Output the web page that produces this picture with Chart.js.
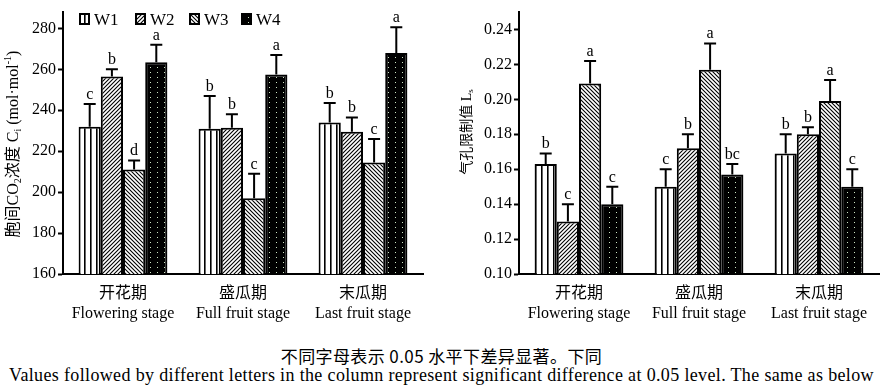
<!DOCTYPE html>
<html lang="zh">
<head>
<meta charset="UTF-8">
<title>Ci and Ls</title>
<script src="https://cdn.jsdelivr.net/npm/chart.js"></script>
<style>
    body { margin: 0; background: #fff; width: 883px; height: 390px; position: relative; overflow: hidden; }
    #left { position: absolute; left: 0; top: 0; }
    #right { position: absolute; left: 445px; top: 0; }
    .cap { position: absolute; left: 0; width: 883px; text-align: center; color: #000; white-space: nowrap; }
    #capZh { top: 343px; font: 17px 'Noto Sans CJK SC', 'Noto Sans', sans-serif; letter-spacing: 0.4px; }
    #capEn { top: 365px; font: 18px 'Liberation Serif', serif; letter-spacing: 0.35px; }
</style>
</head>
<body>
<canvas id="left" width="445" height="340"></canvas>
<canvas id="right" width="438" height="340"></canvas>
<div class="cap" id="capZh">不同字母表示 0.05 水平下差异显著。下同</div>
<div class="cap" id="capEn">Values followed by different letters in the column represent significant difference at 0.05 level. The same as below</div>
<script>
// data
const stages = [['开花期', 'Flowering stage'], ['盛瓜期', 'Full fruit stage'], ['末瓜期', 'Last fruit stage']];
const treatments = ['W1', 'W2', 'W3', 'W4'];

const ciTicks = [160, 180, 200, 220, 240, 260, 280];
const ciMean = [
    [232, 231, 234],
    [256.5, 231.5, 229.5],
    [211, 197, 214.5],
    [263.5, 257.5, 268]
];
const ciTop = [
    [243, 247, 243.5],
    [260, 238, 236.5],
    [215.5, 209, 226],
    [272, 267, 280.5]
];
const ciLetters = [['c', 'b', 'b'], ['b', 'b', 'b'], ['d', 'c', 'c'], ['a', 'a', 'a']];

const lsTicks = [0.10, 0.12, 0.14, 0.16, 0.18, 0.20, 0.22, 0.24];
const lsMean = [
    [0.163, 0.150, 0.169],
    [0.130, 0.172, 0.180],
    [0.209, 0.217, 0.199],
    [0.140, 0.157, 0.150]
];
const lsTop = [
    [0.169, 0.160, 0.180],
    [0.140, 0.180, 0.184],
    [0.222, 0.232, 0.211],
    [0.150, 0.163, 0.160]
];
const lsLetters = [['b', 'c', 'b'], ['c', 'b', 'b'], ['a', 'a', 'a'], ['c', 'bc', 'c']];

const SERIF = "'Liberation Serif', 'Noto Sans CJK SC', serif";

// fill patterns
function makePattern(w, h, draw) {
    const c = document.createElement('canvas');
    c.width = w; c.height = h;
    const g = c.getContext('2d');
    draw(g, w, h);
    return g.createPattern(c, 'repeat');
}
const fills = [
    makePattern(6, 6, (g) => {
        g.fillStyle = '#fff'; g.fillRect(0, 0, 6, 6);
        g.fillStyle = '#000'; g.fillRect(0, 0, 1.6, 6);
    }),
    makePattern(4, 4, (g) => {
        g.fillStyle = '#fff'; g.fillRect(0, 0, 4, 4);
        g.strokeStyle = '#000'; g.lineWidth = 1.1;
        g.beginPath();
        g.moveTo(-1, 5); g.lineTo(5, -1);
        g.moveTo(-1, 1); g.lineTo(1, -1);
        g.moveTo(3, 5); g.lineTo(5, 3);
        g.stroke();
    }),
    makePattern(4, 4, (g) => {
        g.fillStyle = '#fff'; g.fillRect(0, 0, 4, 4);
        g.strokeStyle = '#000'; g.lineWidth = 1.1;
        g.beginPath();
        g.moveTo(-1, -1); g.lineTo(5, 5);
        g.moveTo(3, -1); g.lineTo(5, 1);
        g.moveTo(-1, 3); g.lineTo(1, 5);
        g.stroke();
    }),
    makePattern(7, 5, (g) => {
        g.fillStyle = '#000'; g.fillRect(0, 0, 7, 5);
        g.fillStyle = '#cfe6c6'; g.fillRect(3, 2, 1, 1);
    })
];

// draws a run of text pieces (sub/superscripts) centred at 0,0
function richText(ctx, parts) {
    let total = 0;
    parts.forEach(p => {
        ctx.font = p.size + 'px ' + SERIF;
        p.w = ctx.measureText(p.t).width;
        total += p.w;
    });
    let x = -total / 2;
    ctx.textBaseline = 'middle';
    ctx.textAlign = 'left';
    parts.forEach(p => {
        ctx.font = p.size + 'px ' + SERIF;
        ctx.fillText(p.t, x, p.dy || 0);
        x += p.w;
    });
}

const extras = {
    id: 'extras',
    afterDatasetsDraw(chart, args, opts) {
        const ctx = chart.ctx;
        const y = chart.scales.y;
        ctx.save();
        ctx.strokeStyle = '#000';
        ctx.fillStyle = '#000';
        ctx.lineWidth = 2;
        chart.data.datasets.forEach((ds, i) => {
            chart.getDatasetMeta(i).data.forEach((bar, j) => {
                const yTop = y.getPixelForValue(opts.tops[i][j]);
                const yBar = y.getPixelForValue(ds.data[j]);
                ctx.beginPath();
                ctx.moveTo(bar.x, yBar);
                ctx.lineTo(bar.x, yTop);
                ctx.moveTo(bar.x - 6, yTop);
                ctx.lineTo(bar.x + 6, yTop);
                ctx.stroke();
                ctx.font = '16px ' + SERIF;
                ctx.textAlign = 'center';
                ctx.textBaseline = 'alphabetic';
                ctx.fillText(opts.letters[i][j], bar.x, yTop - 5);
            });
        });
        // y title
        ctx.translate(opts.titleX, opts.titleY);
        ctx.rotate(-Math.PI / 2);
        richText(ctx, opts.title);
        ctx.restore();

        if (opts.legend) {
            ctx.save();
            const boxX = [79, 135, 189, 241];
            ctx.font = '17px ' + SERIF;
            ctx.textBaseline = 'alphabetic';
            ctx.textAlign = 'left';
            chart.data.datasets.forEach((ds, i) => {
                ctx.fillStyle = ds.backgroundColor;
                ctx.fillRect(boxX[i], 13, 11, 12);
                ctx.strokeStyle = '#000';
                ctx.lineWidth = 2;
                ctx.strokeRect(boxX[i] + 1, 14, 9, 10);
                ctx.fillStyle = '#000';
                ctx.fillText(ds.label, boxX[i] + 15, 25);
            });
            ctx.restore();
        }
    }
};

function buildChart(id, means, opts) {
    return new Chart(document.getElementById(id), {
        type: 'bar',
        data: {
            labels: stages,
            datasets: treatments.map((t, i) => ({
                label: t,
                data: means[i],
                backgroundColor: fills[i],
                borderColor: '#000',
                borderWidth: 2,
                borderSkipped: false,
                categoryPercentage: 0.74,
                barPercentage: 1
            }))
        },
        options: {
            responsive: false,
            animation: false,
            layout: { padding: { left: 0, right: opts.padRight, top: 12, bottom: 0 } },
            plugins: {
                legend: { display: false },
                tooltip: { enabled: false },
                extras: opts.extras
            },
            scales: {
                x: {
                    grid: { display: false },
                    border: { display: true, color: '#000', width: 2 },
                    ticks: {
                        color: '#000',
                        padding: 2,
                        maxRotation: 0,
                        font: { family: SERIF, size: 16, lineHeight: 1.25 }
                    },
                    afterFit: (s) => { s.height = 66; }
                },
                y: {
                    min: opts.min,
                    max: opts.max,
                    grid: { drawOnChartArea: false, drawTicks: true, tickLength: 5, tickColor: '#000', tickWidth: 2 },
                    border: { display: true, color: '#000', width: 2 },
                    ticks: {
                        color: '#000',
                        padding: 2,
                        font: { family: SERIF, size: 16 },
                        callback: opts.fmt
                    },
                    afterBuildTicks: (s) => {
                        s.ticks = opts.ticks.map(v => ({ value: v }));
                    },
                    afterFit: (s) => { s.width = opts.yWidth; }
                }
            }
        },
        plugins: [extras]
    });
}

buildChart('left', ciMean, {
    min: 160, max: 288, ticks: ciTicks, yWidth: 63, padRight: 22,
    fmt: (v) => String(v),
    extras: {
        tops: ciTop, letters: ciLetters, legend: true,
        titleX: 14, titleY: 144,
        title: [
            { t: '胞间CO', size: 16 },
            { t: '2', size: 10, dy: 4 },
            { t: '浓度 C', size: 16 },
            { t: 'i', size: 10, dy: 4 },
            { t: ' (mol·mol', size: 16 },
            { t: '-1', size: 10, dy: -6 },
            { t: ')', size: 16 }
        ]
    }
});

buildChart('right', lsMean, {
    min: 0.10, max: 0.25, ticks: lsTicks, yWidth: 74, padRight: 4,
    fmt: (v) => v.toFixed(2),
    extras: {
        tops: lsTop, letters: lsLetters, legend: false,
        titleX: 22, titleY: 132,
        title: [
            { t: '气孔限制值 L', size: 14 },
            { t: 's', size: 9, dy: 4 }
        ]
    }
});
</script>
</body>
</html>
